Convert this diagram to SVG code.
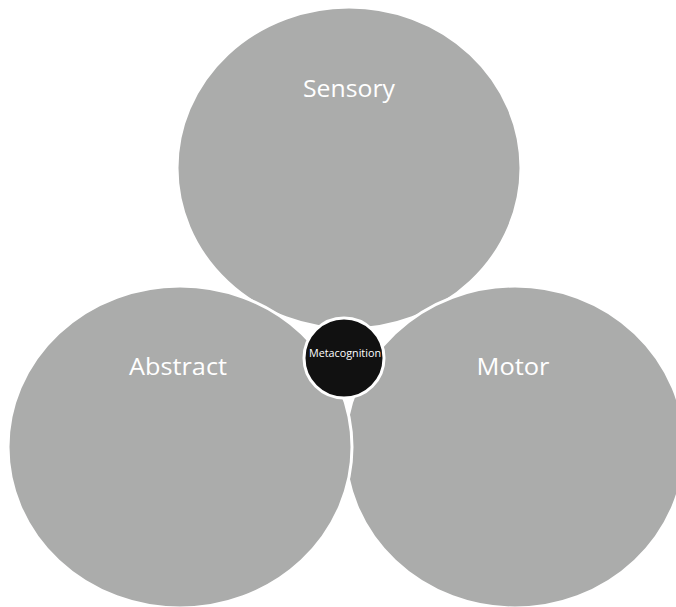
<svg xmlns="http://www.w3.org/2000/svg" width="676" height="607" viewBox="0 0 676 607">
<style>
.big{fill:#abacab;stroke:#ffffff;stroke-width:3}
.lbl{font-family:"Open Sans","Noto Sans",sans-serif;fill:#ffffff;text-anchor:middle}
.t1{font-size:23px}
.t2{font-size:10.5px}
</style>
<rect width="676" height="607" fill="#ffffff"/>
<g id="sensory">
<ellipse class="big" cx="349" cy="168" rx="172" ry="161"/>
<text class="lbl t1" x="349" y="97" textLength="92" lengthAdjust="spacingAndGlyphs">Sensory</text>
</g>
<g id="motor">
<ellipse class="big" cx="515" cy="447" rx="170" ry="161"/>
<text class="lbl t1" x="513" y="375" textLength="73" lengthAdjust="spacingAndGlyphs">Motor</text>
</g>
<g id="abstract">
<ellipse class="big" cx="180" cy="447" rx="172" ry="161"/>
<text class="lbl t1" x="178" y="375" textLength="98" lengthAdjust="spacingAndGlyphs">Abstract</text>
</g>
<g id="connectors"></g>
<g id="metacognition">
<circle cx="344" cy="358" r="40" fill="#111111" stroke="#ffffff" stroke-width="3"/>
<text class="lbl t2" x="345" y="357" textLength="72" lengthAdjust="spacingAndGlyphs">Metacognition</text>
</g>
</svg>
